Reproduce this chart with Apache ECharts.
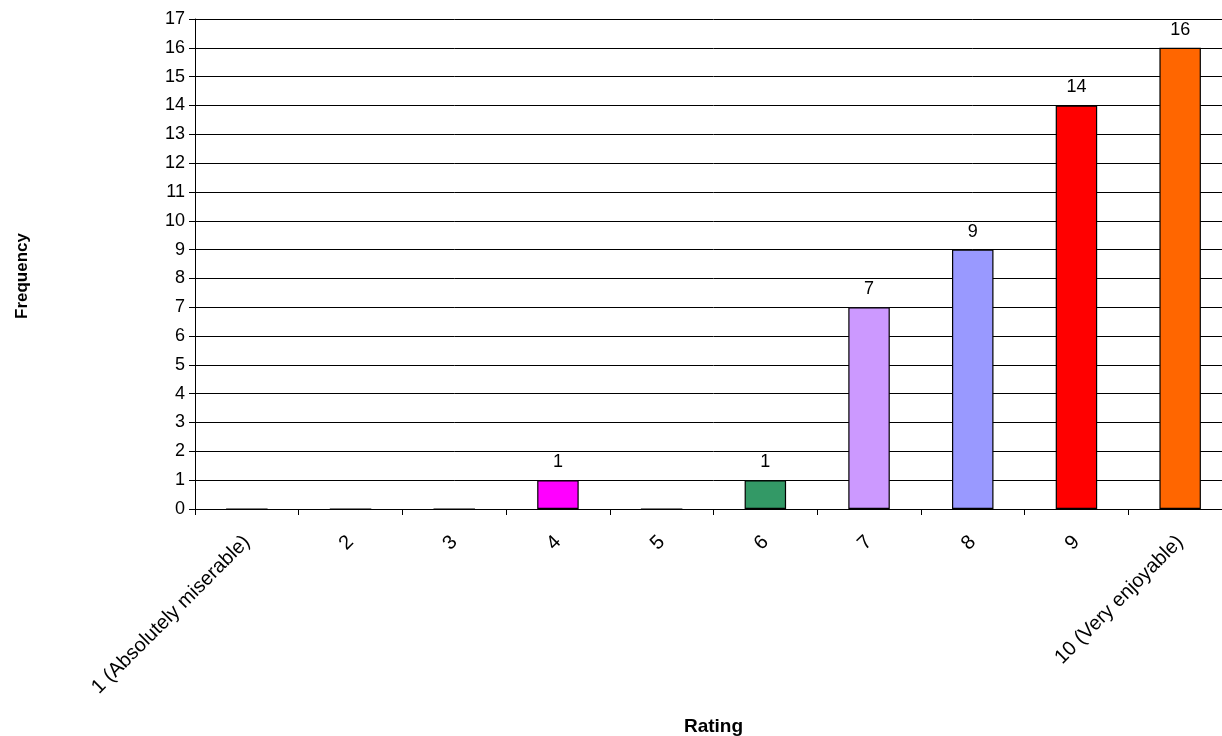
<!DOCTYPE html>
<html><head><meta charset="utf-8">
<script src="https://cdn.jsdelivr.net/npm/echarts@6/dist/echarts.min.js"></script>
<style>html,body{margin:0;padding:0;background:#fff;overflow:hidden;width:1222px;height:736px;}#c{width:1240px;height:736px;}</style>
</head><body><div id="c"></div>
<script>
const categories = ['1 (Absolutely miserable)','2','3','4','5','6','7','8','9','10 (Very enjoyable)'];
const frequency = [0,0,0,1,0,1,7,9,14,16];
const barColors = ['#FF00FF','#FF00FF','#FF00FF','#FF00FF','#FF00FF','#339966','#CC99FF','#9999FF','#FF0000','#FF6600'];
const yTicks = {min:0, max:17, interval:1};

const font = 'Liberation Sans, Arial, sans-serif';
const chart = echarts.init(document.getElementById('c'));
chart.setOption({
  animation:false,
  backgroundColor:'#fff',
  grid:{left:195, top:19, right:8, height:490, containLabel:false, outerBoundsMode:'none'},
  xAxis:{
    type:'category', data:categories,
    name:'Rating', nameLocation:'middle', nameGap:208,
    nameTextStyle:{fontFamily:font, fontSize:19, fontWeight:'bold', color:'#000'},
    axisLine:{lineStyle:{color:'#000', width:1}},
    axisTick:{show:true, alignWithLabel:false, length:6, lineStyle:{color:'#000'}},
    axisLabel:{rotate:45, fontFamily:font, fontSize:20, color:'#000', margin:30, interval:0},
    splitLine:{show:false}
  },
  yAxis:{
    type:'value', min:yTicks.min, max:yTicks.max, interval:yTicks.interval,
    name:'Frequency', nameLocation:'middle', nameRotate:90, nameGap:164,
    nameTextStyle:{fontFamily:font, fontSize:17, fontWeight:'bold', color:'#000', padding:[0,24,0,0]},
    axisLine:{show:true, lineStyle:{color:'#000', width:1}},
    axisTick:{show:true, length:6, lineStyle:{color:'#000'}},
    axisLabel:{fontFamily:font, fontSize:18, color:'#000', margin:10},
    splitLine:{show:true, lineStyle:{color:'#000', width:1}}
  },
  series:[{
    type:'bar', barWidth:'40%',
    data: frequency.map((v,i)=>({value:v, itemStyle:{color:barColors[i]}, label:{show:v>0}})),
    itemStyle:{borderColor:'#000', borderWidth:1.2},
    label:{position:'top', distance:9, fontFamily:font, fontSize:18, color:'#000'}
  }]
});
</script></body></html>
